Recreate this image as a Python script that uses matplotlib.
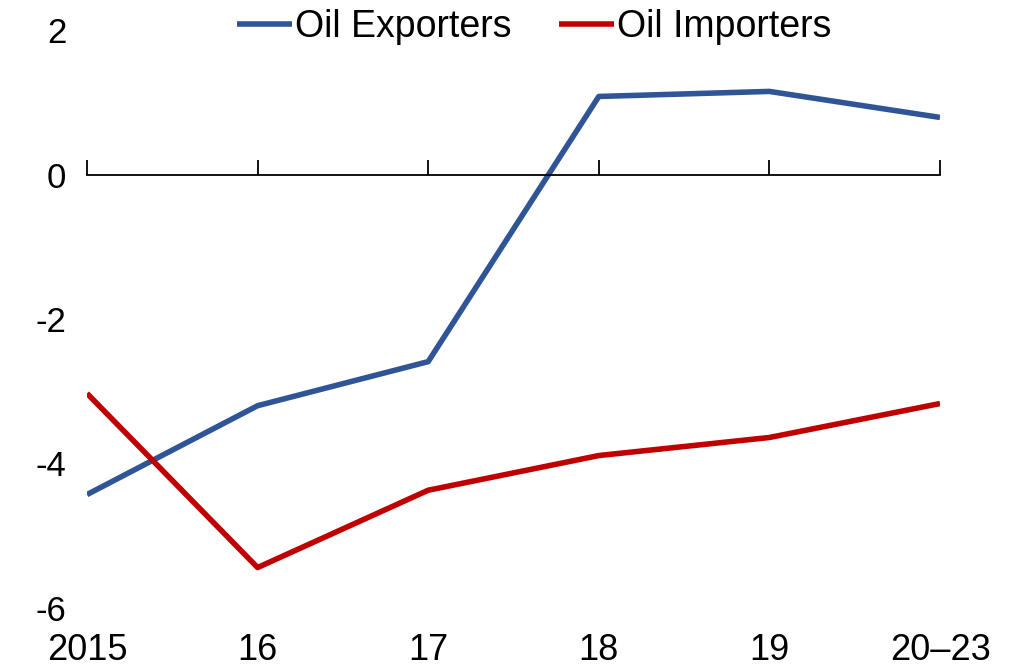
import matplotlib.pyplot as plt
from matplotlib.transforms import blended_transform_factory

plt.rcParams['font.family'] = ['Liberation Sans', 'DejaVu Sans']

years = ["2015", "16", "17", "18", "19", "20\u201323"]
exporters = [-4.43, -3.20, -2.59, 1.08, 1.15, 0.79]
importers = [-3.03, -5.44, -4.37, -3.89, -3.64, -3.17]
yticks = [2, 0, -2, -4, -6]

fig = plt.figure(figsize=(10.09, 6.71), dpi=100)
ax = fig.add_axes([87 / 1009, 1 - 608 / 671, (940 - 87) / 1009, (608 - 30) / 671])

x = list(range(len(years)))
ax.plot(x, exporters, color="#2F5597", lw=4, label="Oil Exporters", solid_capstyle="butt")
ax.plot(x, importers, color="#C00000", lw=4, label="Oil Importers", solid_capstyle="butt")

ax.set_xlim(0, len(years) - 1)
ax.set_ylim(-6, 2)

# x axis line sits at zero with short upward ticks
for s in ["top", "right", "left"]:
    ax.spines[s].set_visible(False)
ax.spines["bottom"].set_position(("data", 0))
ax.spines["bottom"].set_linewidth(1.3)
ax.set_xticks(x)
ax.tick_params(axis="x", direction="in", length=11, width=1.3, labelbottom=False)

# category labels along the bottom of the plot
trans = blended_transform_factory(ax.transData, ax.transAxes)
for xi, lab in zip(x, years):
    ax.text(xi, -0.073, lab, transform=trans, ha="center", va="center", fontsize=26)

ax.set_yticks(yticks)
ax.set_yticklabels([str(v) for v in yticks])
ax.tick_params(axis="y", length=0, pad=15, labelsize=25)

fig.legend(loc="center", bbox_to_anchor=(534 / 1009, 1 - 27 / 671), ncol=2, frameon=False,
           fontsize=27, handlelength=1.47, handletextpad=0.08, columnspacing=1.25,
           borderaxespad=0, borderpad=0)

fig.savefig("out.png", dpi=100)
